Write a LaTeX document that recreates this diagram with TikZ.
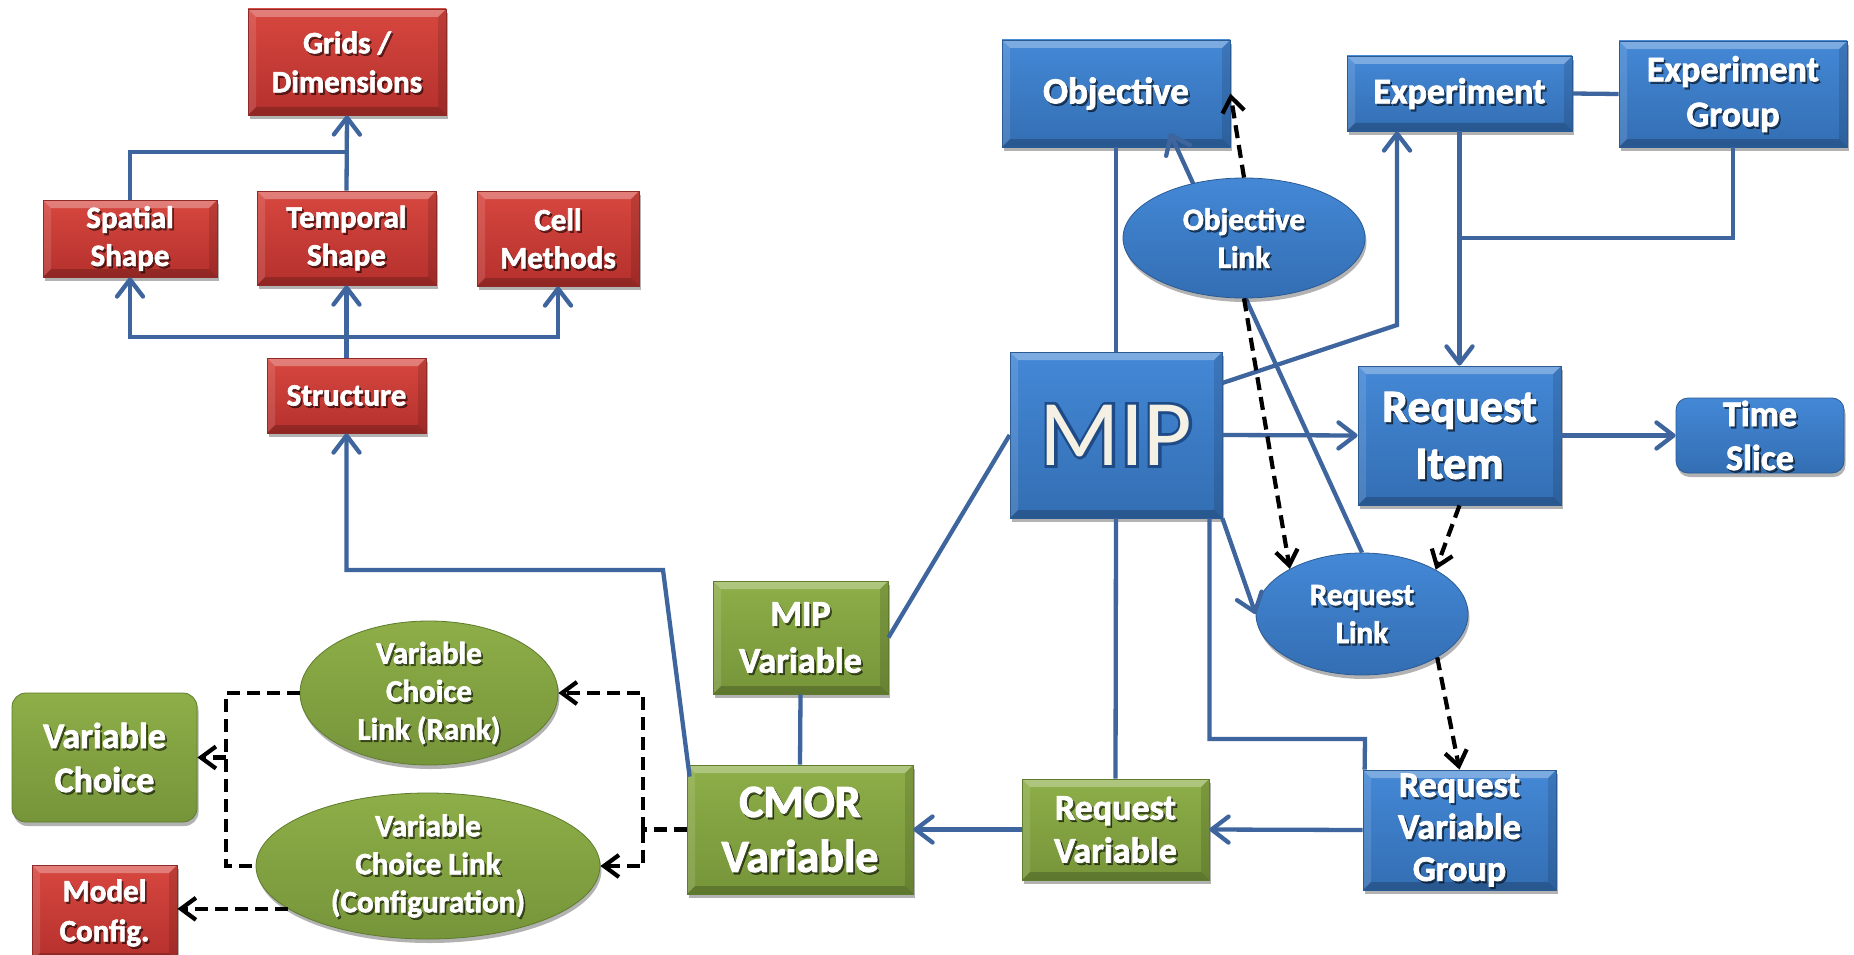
\documentclass[tikz,border=0pt]{standalone}
\usepackage{fontspec}
\setmainfont{Carlito}[BoldFeatures={FakeBold=2}]
\newfontfamily\mipedgefont{Carlito}[FakeBold=6]
\usetikzlibrary{shapes.geometric,arrows.meta,shadows,calc}

\definecolor{redTop}{HTML}{D7473F}
\definecolor{redBot}{HTML}{B5302D}
\definecolor{redEdge}{HTML}{8E2A27}
\definecolor{blueTop}{HTML}{4488D6}
\definecolor{blueBot}{HTML}{336EB3}
\definecolor{blueEdge}{HTML}{2C5B94}
\definecolor{greenTop}{HTML}{8DAE48}
\definecolor{greenBot}{HTML}{76953A}
\definecolor{greenEdge}{HTML}{5F7B2D}
\definecolor{linkBlue}{HTML}{3E659E}
\definecolor{mipCream}{HTML}{F4F0E3}
\definecolor{mipEdge}{HTML}{1E4A86}

% bevelled edges for the rectangular boxes
\newcommand\bevelfill{%
  \fill[white,opacity=.3] (path picture bounding box.north west) -- (path picture bounding box.north east)
    -- ([shift={(-8pt,-8pt)}]path picture bounding box.north east) -- ([shift={(8pt,-8pt)}]path picture bounding box.north west) -- cycle;
  \fill[white,opacity=.12] (path picture bounding box.north west) -- ([shift={(8pt,-8pt)}]path picture bounding box.north west)
    -- ([shift={(8pt,8pt)}]path picture bounding box.south west) -- (path picture bounding box.south west) -- cycle;
  \fill[black,opacity=.12] (path picture bounding box.north east) -- ([shift={(-8pt,-8pt)}]path picture bounding box.north east)
    -- ([shift={(-8pt,8pt)}]path picture bounding box.south east) -- (path picture bounding box.south east) -- cycle;
  \fill[black,opacity=.2] (path picture bounding box.south west) -- ([shift={(8pt,8pt)}]path picture bounding box.south west)
    -- ([shift={(-8pt,8pt)}]path picture bounding box.south east) -- (path picture bounding box.south east) -- cycle;
}

\tikzset{
  dshadow/.style={drop shadow={shadow xshift=1.5pt,shadow yshift=-4pt,opacity=.3,fill=black}},
  redbox/.style={rectangle, draw=redEdge, line width=.8pt, top color=redTop, bottom color=redBot, path picture={\bevelfill}, dshadow},
  greenbox/.style={rectangle, draw=greenEdge, line width=.8pt, top color=greenTop, bottom color=greenBot, path picture={\bevelfill}, dshadow},
  greenround/.style={rectangle, rounded corners=14pt, draw=greenEdge, line width=.8pt, top color=greenTop, bottom color=greenBot, dshadow},
  greenell/.style={ellipse, draw=greenEdge, line width=.8pt, top color=greenTop, bottom color=greenBot, dshadow},
  bluebox/.style={rectangle, draw=blueEdge, line width=.8pt, top color=blueTop, bottom color=blueBot, path picture={\bevelfill}, dshadow},
  blueround/.style={rectangle, rounded corners=12pt, draw=blueEdge, line width=.8pt, top color=blueTop, bottom color=blueBot, dshadow},
  blueell/.style={ellipse, draw=blueEdge, line width=.8pt, top color=blueTop, bottom color=blueBot, dshadow},
  tlabel/.style={text=white, align=center, inner sep=0pt},
  tshadow/.style={text=black, text opacity=.5, align=center, inner sep=0pt},
  conn/.style={draw=linkBlue, line width=4.3pt},
  arr/.style={-{Straight Barb[length=17pt,width=26pt,round]}},
  dsh/.style={draw=black, line width=4.2pt, dash pattern=on 13pt off 7pt},
  darr/.style={-{Straight Barb[length=15pt,width=22pt]}},
}

% name, style, x, y, width, height, font size, line pitch, text
\newcommand\boxnode[9]{%
  \node[#2, minimum width=#5pt, minimum height=#6pt, inner sep=0pt] (#1) at (#3,#4) {};
  \node[tshadow, font=\bfseries\fontsize{#7}{#8}\selectfont] at ([xshift=1.8pt,yshift=-2.2pt]#1.center) {#9};
  \node[tlabel, font=\bfseries\fontsize{#7}{#8}\selectfont] at (#1.center) {#9};
}

\begin{document}
\begin{tikzpicture}[x=1pt,y=-1pt]
\useasboundingbox (0,0) rectangle (1854,955);
\fill[white] (0,0) rectangle (1854,955);

% structure branch
\boxnode{grids}{redbox}{347}{62}{198}{106}{31}{39}{Grids /\\Dimensions}
\boxnode{spatial}{redbox}{130}{238.5}{174}{77}{31}{38}{Spatial\\Shape}
\boxnode{temporal}{redbox}{346.5}{238}{179}{94}{31}{38}{Temporal\\Shape}
\boxnode{cell}{redbox}{558}{238.5}{162}{95}{31}{38}{Cell\\Methods}
\boxnode{structure}{redbox}{346.5}{395.5}{159}{75}{31}{38}{Structure}
\boxnode{modelcfg}{redbox}{104.5}{913}{145}{96}{31}{40}{Model\\Config.}

% variables
\boxnode{varchoice}{greenround}{104.5}{757.5}{185}{129}{36}{44}{Variable\\Choice}
\boxnode{rank}{greenell}{429}{693}{258}{144}{31}{38}{Variable\\Choice\\Link (Rank)}
\boxnode{conf}{greenell}{428}{866}{344}{146}{31}{38}{Variable\\Choice Link\\(Configuration)}
\boxnode{mipvar}{greenbox}{800.5}{637.5}{175}{113}{36}{47}{MIP\\Variable}
\boxnode{cmor}{greenbox}{800}{829.5}{226}{129}{46}{55}{CMOR\\Variable}
\boxnode{reqvar}{greenbox}{1115.5}{829.5}{187}{101}{36}{43}{Request\\Variable}

% request side
\boxnode{objective}{bluebox}{1116}{93.5}{228}{107}{37}{44}{Objective}
\boxnode{experiment}{bluebox}{1459.5}{93.5}{225}{75}{36}{44}{Experiment}
\boxnode{expgroup}{bluebox}{1733}{94}{228}{106}{36}{45}{Experiment\\Group}
\boxnode{reqitem}{bluebox}{1459.5}{435.5}{203}{139}{46}{57}{Request\\Item}
\boxnode{timeslice}{blueround}{1760}{435.5}{168}{75}{36}{44}{Time\\Slice}
\boxnode{reqlink}{blueell}{1362}{614}{212}{122}{31}{38}{Request\\Link}
\boxnode{rvg}{bluebox}{1459.5}{830}{193}{120}{36}{42}{Request\\Variable\\Group}

% central MIP box with outlined lettering
\node[bluebox, minimum width=212pt, minimum height=166pt, inner sep=0pt] (mip) at (1116,435) {};
\node[text=mipEdge, font=\mipedgefont\fontsize{94}{94}\selectfont, inner sep=0pt] at (mip.center) {MIP};
\node[text=mipCream, font=\fontsize{94}{94}\selectfont, inner sep=0pt] at (mip.center) {MIP};

% bends and junctions
\coordinate (j1) at (346.5,152);
\coordinate (bus) at (346.5,337);
\coordinate (bend1) at (663,570);
\coordinate (bend2) at (1397,325);
\coordinate (bend4) at (1365,739);
\coordinate (j2) at (1459.5,238);
\coordinate (objin) at (1170,133);
\coordinate (d1) at (643,829.5);
\coordinate (d2) at (226,757.5);

% solid connectors
\draw[conn] (spatial.north) |- (j1);
\draw[conn,arr] (temporal.north) -- (grids.south);
\draw[conn,arr] (structure.north) -- (temporal.south);
\draw[conn,arr] (bus) -| (spatial.south);
\draw[conn,arr] (bus) -| (cell.south);
\draw[conn,arr] ([xshift=3pt,yshift=-12pt]cmor.north west) -- (bend1) -| (structure.south);
\draw[conn] (mipvar.south) -- (cmor.north);
\draw[conn] (mipvar.east) -- (mip.west);
\draw[conn] (mip.north) -- (objective.south);
\draw[conn,arr] ([yshift=52pt]mip.east) -- (bend2) -- (bend2 |- experiment.south);
\draw[conn,arr] (mip.east) -- (reqitem.west);
\draw[conn] (mip.south) -- (reqvar.north);
\draw[conn] ([xshift=-13pt]mip.south east) |- (bend4) -- ([xshift=2pt]rvg.north west);
\draw[conn,arr] (mip.south east) -- (reqlink.west);
\draw[conn,arr] (reqitem.east) -- (timeslice.west);
\draw[conn] (experiment.east) -- (expgroup.west);
\draw[conn,arr] (experiment.south) -- (reqitem.north);
\draw[conn] (expgroup.south) |- (j2);
\draw[conn,arr] (reqlink.north) -- (objin);
\draw[conn,arr] (rvg.west) -- (reqvar.east);
\draw[conn,arr] (reqvar.west) -- (cmor.east);

% dashed links
\draw[dsh,darr] (reqitem.south) -- (reqlink.31.5);
\draw[dsh,darr] (reqlink.-30) -- (rvg.north);
\draw[dsh] (cmor.west) -- (d1);
\draw[dsh,darr] (d1) |- (rank.east);
\draw[dsh,darr] (d1) |- (conf.east);
\draw[dsh] (rank.west) -| (d2) |- (conf.west);
\draw[dsh,darr] (d2) -- (varchoice.east);
\draw[dsh,darr] (conf.197.8) -- (conf.197.8 -| modelcfg.east);

% objective link sits above the line it crosses
\boxnode{objlink}{blueell}{1244}{238}{242}{120}{31}{38}{Objective\\Link}
\draw[dsh,darr] (objlink.north) -- (objective.east);
\draw[dsh,darr] (objlink.south) -- (reqlink.148.5);
\end{tikzpicture}
\end{document}
